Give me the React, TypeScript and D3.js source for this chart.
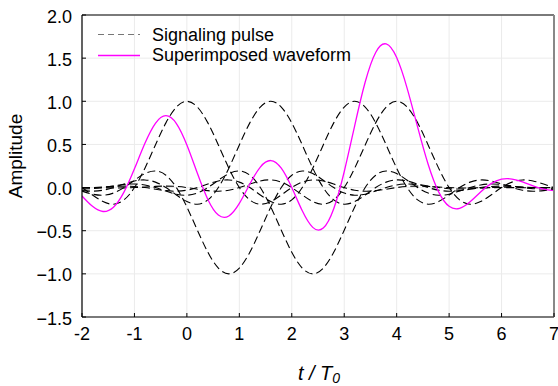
import React from "react";
import * as d3 from "d3";

// Symbol instants (t/T0) and their amplitudes
const symbolTimes = [0, 0.8, 1.6, 2.4, 3.2, 4.0];
const symbolAmplitudes = [1, -1, 1, -1, 1, 1];

// Signaling pulse shape (one-sided, symmetric), sampled every 0.2 T0 from 0 to 7
const pulseOffsets = [
  0, 0.2, 0.4, 0.6, 0.8, 1.0, 1.2, 1.4, 1.6, 1.8, 2.0, 2.2, 2.4, 2.6, 2.8, 3.0,
  3.2, 3.4, 3.6, 3.8, 4.0, 4.2, 4.4, 4.6, 4.8, 5.0, 5.2, 5.4, 5.6, 5.8, 6.0,
  6.2, 6.4, 6.6, 6.8, 7.0,
];
const pulseShape = [
  1.0, 0.9333, 0.7498, 0.494, 0.2252, 0.0, -0.1432, -0.1925, -0.1624, -0.0856,
  0.0, 0.0633, 0.0886, 0.0766, 0.0409, 0.0, -0.0303, -0.042, -0.0357, -0.0186,
  0.0, 0.0129, 0.017, 0.0137, 0.0066, 0.0, -0.0037, -0.004, -0.0024, -0.0007,
  0.0, -0.0005, -0.0016, -0.0021, -0.0015, 0.0,
];

const xTicks = [-2, -1, 0, 1, 2, 3, 4, 5, 6, 7];
const yTicks = [-1.5, -1.0, -0.5, 0.0, 0.5, 1.0, 1.5, 2.0];
const legendLabels = ["Signaling pulse", "Superimposed waveform"];

const W = 558;
const H = 386;
const M = { left: 82, right: 4, top: 15, bottom: 69 };

export default function App() {
  const x = d3.scaleLinear().domain([-2, 7]).range([M.left, W - M.right]);
  const y = d3.scaleLinear().domain([-1.5, 2.0]).range([H - M.bottom, M.top]);

  const shapeAt = (off: number) => {
    const i = Math.round(Math.abs(off) / 0.2);
    return i < pulseShape.length ? pulseShape[i] : 0;
  };

  // full symmetric offset list
  const symOffsets = [...pulseOffsets.slice(1).map((o) => -o).reverse(), ...pulseOffsets];

  const pulses = symbolTimes.map((tk, k) =>
    symOffsets
      .map((o) => ({ t: tk + o, v: symbolAmplitudes[k] * shapeAt(o) }))
      .filter((p) => p.t >= -2 - 1e-9 && p.t <= 7 + 1e-9)
  );

  // superimposed waveform: sum of pulses on the common sampling grid
  const gridTimes = pulses[0].map((p) => p.t);
  const sum = gridTimes.map((t) => ({
    t,
    v: d3.sum(symbolTimes, (tk, k) => symbolAmplitudes[k] * shapeAt(t - tk)),
  }));

  const line = d3
    .line<{ t: number; v: number }>()
    .x((d) => x(d.t))
    .y((d) => y(d.v))
    .curve(d3.curveNatural);

  const font = "'Liberation Sans', Arial, Helvetica, sans-serif";
  const x0 = M.left;
  const x1 = W - M.right;
  const y0 = H - M.bottom;
  const y1 = M.top;

  return (
    <svg width={W} height={H} style={{ position: "absolute", left: 0, top: 0 }} fontFamily={font}>
      <rect x={0} y={0} width={W} height={H} fill="#fff" />
      <defs>
        <clipPath id="plot">
          <rect x={x0} y={y1} width={x1 - x0} height={y0 - y1} />
        </clipPath>
      </defs>
      {/* grid */}
      {xTicks.map((t) => (
        <line key={"gx" + t} x1={x(t)} x2={x(t)} y1={y0} y2={y1} stroke="#ebebeb" strokeWidth={1} />
      ))}
      {yTicks.map((t) => (
        <line key={"gy" + t} x1={x0} x2={x1} y1={y(t)} y2={y(t)} stroke="#ebebeb" strokeWidth={1} />
      ))}
      {/* curves */}
      <g clipPath="url(#plot)">
        {pulses.map((p, i) => (
          <path key={"p" + i} d={line(p) || ""} fill="none" stroke="#000" strokeWidth={1.1} strokeDasharray="8,4" />
        ))}
        <path d={line(sum) || ""} fill="none" stroke="#ff00ff" strokeWidth={1.3} />
      </g>
      {/* frame */}
      <line x1={x0} x2={x1} y1={y1} y2={y1} stroke="#000" strokeWidth={1.2} />
      <line x1={x0} x2={x0} y1={y1} y2={y0} stroke="#000" strokeWidth={1.2} />
      <line x1={x0} x2={x1} y1={y0} y2={y0} stroke="#000" strokeWidth={1.2} />
      <line x1={x1} x2={x1} y1={y1} y2={y0} stroke="#888" strokeWidth={2} />
      {/* ticks */}
      {xTicks.map((t) => (
        <g key={"xt" + t}>
          <line x1={x(t)} x2={x(t)} y1={y0} y2={y0 - 4} stroke="#000" strokeWidth={1} />
          <text x={x(t)} y={340} textAnchor="middle" fontSize={18} fill="#000">
            {t}
          </text>
        </g>
      ))}
      {yTicks.map((t) => (
        <g key={"yt" + t}>
          <line x1={x0} x2={x0 + 4} y1={y(t)} y2={y(t)} stroke="#000" strokeWidth={1} />
          <text x={72} y={y(t) + 1.5} textAnchor="end" dominantBaseline="central" fontSize={18} fill="#000">
            {d3.format(".1f")(t)}
          </text>
        </g>
      ))}
      {/* axis titles */}
      <text transform={`translate(22,156) rotate(-90)`} textAnchor="middle" fontSize={19} fill="#000">
        Amplitude
      </text>
      <text x={319} y={380} textAnchor="middle" fontSize={20} fontStyle="italic" fill="#000">
        t / T<tspan fontSize={14} dy={2.5}>0</tspan>
      </text>
      {/* legend */}
      <line x1={98} x2={140} y1={34.5} y2={34.5} stroke="#777" strokeWidth={1.2} strokeDasharray="6,4" />
      <text x={152} y={35} dominantBaseline="central" fontSize={18} fill="#000">
        {legendLabels[0]}
      </text>
      <line x1={98} x2={140} y1={55.5} y2={55.5} stroke="#ff00ff" strokeWidth={1.3} />
      <text x={152} y={55} dominantBaseline="central" fontSize={18} fill="#000">
        {legendLabels[1]}
      </text>
    </svg>
  );
}
